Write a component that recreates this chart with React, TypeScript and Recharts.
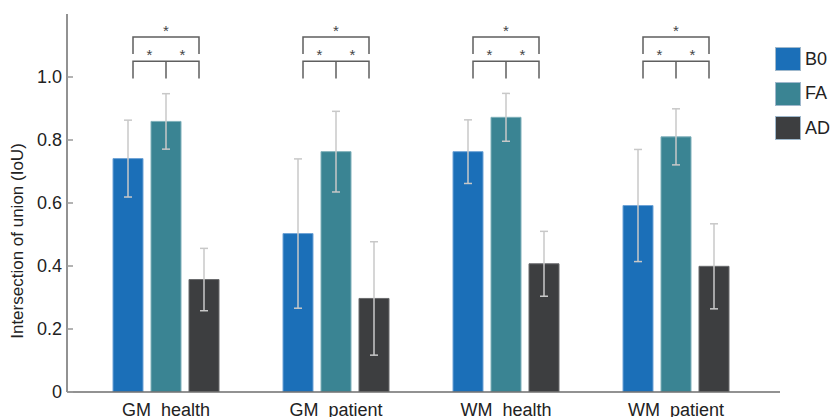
import React from 'react';
import { BarChart, Bar, XAxis, YAxis, ErrorBar } from 'recharts';

const categories = ['GM_health', 'GM_patient', 'WM_health', 'WM_patient'];
const seriesNames = ['B0', 'FA', 'AD'];
const seriesColors = ['#1b6fb8', '#3a8493', '#3d3e40'];
const b0Values = [0.741, 0.503, 0.763, 0.592];
const faValues = [0.859, 0.763, 0.872, 0.81];
const adValues = [0.357, 0.297, 0.407, 0.399];
const b0Err = [0.122, 0.237, 0.101, 0.178];
const faErr = [0.088, 0.128, 0.076, 0.089];
const adErr = [0.099, 0.18, 0.103, 0.135];
const yTicks = [0, 0.2, 0.4, 0.6, 0.8, 1.0];

// significance bracket levels (in IoU units)
const outerLine = 1.127;
const outerLeg = 1.073;
const innerLine = 1.05;
const innerLeg = 0.995;
const outerStar = 1.156;
const innerStar = 1.08;

const data = categories.map((name, i) => ({
  name,
  B0: b0Values[i],
  FA: faValues[i],
  AD: adValues[i],
  B0err: b0Err[i],
  FAerr: faErr[i],
  ADerr: adErr[i],
}));

const FONT = '"Liberation Sans", Arial, sans-serif';

const YTick = ({ x, y, payload }: any) => (
  <g>
    <line x1={x + 5} x2={x + 11} y1={y} y2={y} stroke="#9a9a9a" strokeWidth={1.5} />
    <text x={x} y={y} dy="0.36em" textAnchor="end" fontSize={18} fill="#222" fontFamily={FONT}>
      {payload.value === 0 ? '0' : payload.value.toFixed(1)}
    </text>
  </g>
);

const YLabel = ({ viewBox }: any) => {
  const cx = viewBox.x + 23;
  const cy = 241;
  return (
    <text
      x={cx}
      y={cy}
      transform={`rotate(-90, ${cx}, ${cy})`}
      textAnchor="middle"
      fontSize={17}
      fill="#222"
      fontFamily={FONT}
    >
      Intersection of union (IoU)
    </text>
  );
};

// drawn on the FA bar of each group, using its pixel height to get the y scale
const Brackets = (props: any) => {
  const { x, y, width, height, index } = props;
  const v = faValues[index];
  if (!v || !height) return null;
  const cx = x + width / 2;
  const base = y + height;
  const k = height / v;
  const py = (val: number) => base - val * k;
  const half = 33;
  const c = '#5f5f5f';
  const sw = 1.5;
  const starDy = 0.57 * 15;
  return (
    <g>
      <path
        d={`M${cx - half},${py(outerLeg)} V${py(outerLine)} H${cx + half} V${py(outerLeg)}`}
        fill="none"
        stroke={c}
        strokeWidth={sw}
      />
      <path
        d={`M${cx - half},${py(innerLeg)} V${py(innerLine)} H${cx + half} V${py(innerLeg)} M${cx},${py(innerLine)} V${py(innerLeg)}`}
        fill="none"
        stroke={c}
        strokeWidth={sw}
      />
      <text x={cx} y={py(outerStar) + starDy} textAnchor="middle" fontSize={15} fill="#444" fontFamily={FONT}>*</text>
      <text x={cx - half / 2} y={py(innerStar) + starDy} textAnchor="middle" fontSize={15} fill="#444" fontFamily={FONT}>*</text>
      <text x={cx + half / 2} y={py(innerStar) + starDy} textAnchor="middle" fontSize={15} fill="#444" fontFamily={FONT}>*</text>
    </g>
  );
};

export default function App() {
  return (
    <div style={{ position: 'absolute', left: 0, top: 0, width: 832, height: 417, background: '#fff' }}>
      <BarChart
        width={832}
        height={417}
        data={data}
        margin={{ top: 14, right: 52, bottom: 0, left: 0 }}
        barGap={8}
        barSize={30}
      >
        <XAxis
          dataKey="name"
          interval={0}
          padding={{ left: 14, right: 19 }}
          height={25}
          tickSize={0}
          tickMargin={11}
          tickLine={false}
          axisLine={{ stroke: '#6e6e6e', strokeWidth: 1.5 }}
          tick={{ fontSize: 18, fill: '#222', fontFamily: FONT }}
        />
        <YAxis
          domain={[0, 1.2]}
          ticks={yTicks}
          width={67}
          tickSize={0}
          tickMargin={5}
          tickLine={false}
          axisLine={{ stroke: '#6e6e6e', strokeWidth: 1.5 }}
          tick={<YTick />}
          label={<YLabel />}
          allowDataOverflow
        />
        <Bar dataKey="B0" fill={seriesColors[0]} stroke="#6fa3d6" strokeWidth={1} isAnimationActive={false}>
          <ErrorBar dataKey="B0err" width={4} stroke="#c8c8c8" strokeWidth={1.5} />
        </Bar>
        <Bar dataKey="FA" fill={seriesColors[1]} stroke="#7fb0ba" strokeWidth={1} isAnimationActive={false} label={<Brackets />}>
          <ErrorBar dataKey="FAerr" width={4} stroke="#c8c8c8" strokeWidth={1.5} />
        </Bar>
        <Bar dataKey="AD" fill={seriesColors[2]} stroke="#6a6b6d" strokeWidth={1} isAnimationActive={false}>
          <ErrorBar dataKey="ADerr" width={4} stroke="#c8c8c8" strokeWidth={1.5} />
        </Bar>
      </BarChart>
      <div style={{ position: 'absolute', left: 775, top: 47, fontFamily: FONT }}>
        {seriesNames.map((s, i) => (
          <div key={s} style={{ display: 'flex', alignItems: 'center', height: 24, marginBottom: 10.5 }}>
            <div
              style={{
                width: 26,
                height: 24,
                boxSizing: 'border-box',
                background: seriesColors[i],
                border: '1px solid #9fb8cc',
              }}
            />
            <span style={{ fontSize: 18, color: '#222', marginLeft: 4 }}>{s}</span>
          </div>
        ))}
      </div>
    </div>
  );
}
